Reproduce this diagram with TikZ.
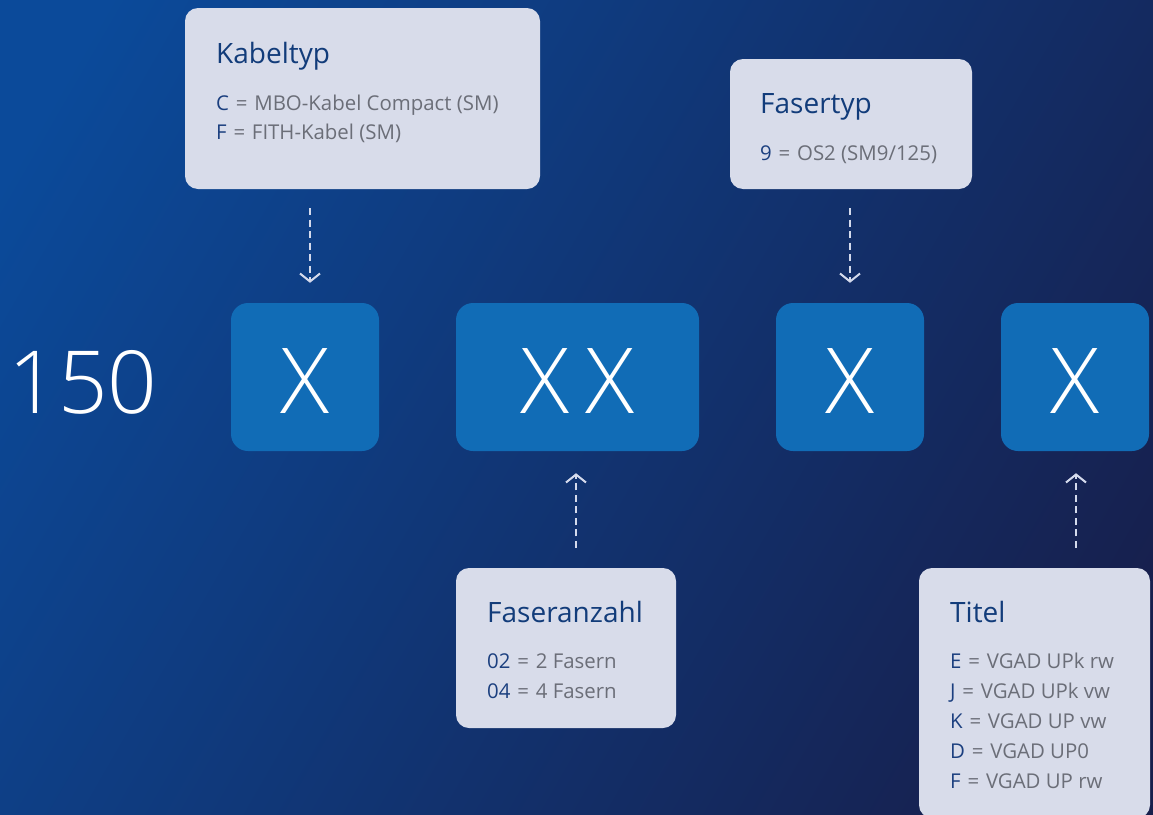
\documentclass[tikz,border=0pt]{standalone}
\usepackage{fontspec}
\setmainfont{Open Sans}
\newfontfamily\thinfont{Open Sans}[UprightFont=* Light]
\usetikzlibrary{arrows.meta}
\definecolor{bgA}{HTML}{0B4A9A}
\definecolor{bgM}{HTML}{153477}
\definecolor{bgB}{HTML}{171F4C}
\definecolor{card}{HTML}{D8DCEA}
\definecolor{xbox}{HTML}{116CB6}
\definecolor{navy}{HTML}{123C7A}
\definecolor{keyc}{HTML}{1B3F7F}
\definecolor{greyt}{HTML}{6B6E78}
\definecolor{arrowc}{HTML}{D4DAEC}
\newcommand{\keyl}[1]{\textcolor{keyc}{#1}\ \hspace{1.5pt}=\hspace{1.5pt}\ }
\tikzset{
  cardbox/.style={fill=card, rounded corners=13pt, inner sep=0pt},
  xnode/.style={fill=xbox, rounded corners=17pt, inner sep=0pt, minimum height=148pt},
  xtext/.style={inner sep=0pt, text=white, anchor=base, font=\thinfont\fontsize{91}{91}\selectfont},
  ttl/.style={anchor=base west, inner sep=0pt, text=navy, font=\fontsize{28}{28}\selectfont},
  itm/.style={anchor=base west, inner sep=0pt, text=greyt, font=\fontsize{20.4}{20}\selectfont},
  conn/.style={draw=arrowc, line width=2pt, dash pattern=on 7pt off 4.5pt,
    -{Straight Barb[length=8pt,width=20pt,line width=2pt]}},
}
\begin{document}
\begin{tikzpicture}[x=1pt,y=-1pt]
\useasboundingbox (0,0) rectangle (1153,814);
\clip (0,0) rectangle (1153,814);
\begin{scope}[yscale=-1]
\shade[top color=bgA, middle color=bgM, bottom color=bgB, shading angle=60] (-100,100) rectangle (1253,-914);
\end{scope}

% upper cards
\node[cardbox, minimum width=355pt, minimum height=181pt] (kab) at (362.5,98.5) {};
\node[ttl] (kabT) at (216,63) {Kabeltyp};
\node[itm] (kab1) at (216,110) {\keyl{C}MBO-Kabel Compact (SM)};
\node[itm] (kab2) at (216,139) {\keyl{F}FITH-Kabel (SM)};

\node[cardbox, minimum width=242pt, minimum height=130pt] (fas) at (851,124) {};
\node[ttl] (fasT) at (760,113) {Fasertyp};
\node[itm] (fas1) at (760,160) {\keyl{9}OS2 (SM9/125)};

% code boxes
\node[xtext, font=\thinfont\fontsize{87}{87}\selectfont] (num) at (83,413) {150};
\node[xnode, minimum width=148pt] (x1) at (305,377) {};
\node[xtext] (x1t) at (305,413) {X};
\node[xnode, minimum width=243pt] (x2) at (577.5,377) {};
\node[xtext] (x2t) at (577.5,413) {X\kern16pt X};
\node[xnode, minimum width=148pt] (x3) at (850,377) {};
\node[xtext] (x3t) at (850,413) {X};
\node[xnode, minimum width=148pt] (x4) at (1075,377) {};
\node[xtext] (x4t) at (1075,413) {X};

% lower cards
\node[cardbox, minimum width=220pt, minimum height=160pt] (anz) at (566,648) {};
\node[ttl] (anzT) at (487,622) {Faseranzahl};
\node[itm] (anz1) at (487,668) {\keyl{02}2 Fasern};
\node[itm] (anz2) at (487,698) {\keyl{04}4 Fasern};

\node[cardbox, minimum width=231pt, minimum height=250pt] (tit) at (1034.5,693) {};
\node[ttl] (titT) at (950,622) {Titel};
\node[itm] (tit1) at (950,668) {\keyl{E}VGAD UPk rw};
\node[itm] (tit2) at (950,698) {\keyl{J}VGAD UPk vw};
\node[itm] (tit3) at (950,728) {\keyl{K}VGAD UP vw};
\node[itm] (tit4) at (950,758) {\keyl{D}VGAD UP0};
\node[itm] (tit5) at (950,788) {\keyl{F}VGAD UP rw};

% connectors
\draw[conn, shorten <=19pt, shorten >=20pt] ([xshift=5pt]x1.north |- kab.south) -- ([xshift=5pt]x1.north);
\draw[conn, shorten <=19pt, shorten >=20pt] (x3.north |- fas.south) -- (x3.north);
\draw[conn, shorten <=20pt, shorten >=22pt] ([xshift=-1.5pt]x2.south |- anz.north) -- ([xshift=-1.5pt]x2.south);
\draw[conn, shorten <=20pt, shorten >=22pt] ([xshift=1pt]x4.south |- tit.north) -- ([xshift=1pt]x4.south);
\end{tikzpicture}
\end{document}
